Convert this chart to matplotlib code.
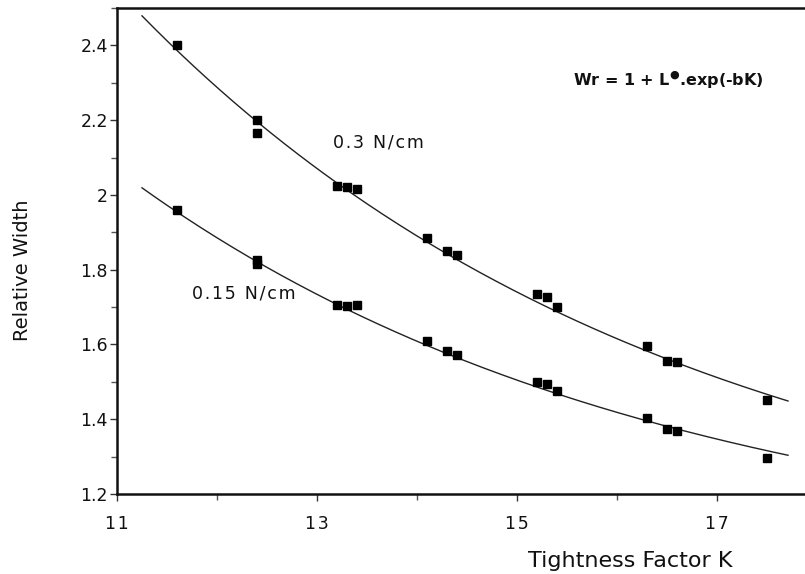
import numpy as np
import matplotlib
matplotlib.use("Agg")
import matplotlib.pyplot as plt
from matplotlib.ticker import MultipleLocator

plt.rcParams['font.family'] = ['DejaVu Sans', 'Liberation Sans']
plt.rcParams['mathtext.fontset'] = 'dejavusans'

# Data: 0.3 N/cm
k_high = [11.6, 12.4, 12.4, 13.2, 13.3, 13.4, 14.1, 14.3, 14.4, 15.2, 15.3, 15.4, 16.3, 16.5, 16.6, 17.5]
w_high = [2.40, 2.20, 2.165, 2.025, 2.02, 2.015, 1.885, 1.85, 1.838, 1.735, 1.727, 1.70, 1.596, 1.556, 1.554, 1.452]
# Data: 0.15 N/cm
k_low = [11.6, 12.4, 12.4, 13.2, 13.3, 13.4, 14.1, 14.3, 14.4, 15.2, 15.3, 15.4, 16.3, 16.5, 16.6, 17.5]
w_low = [1.961, 1.826, 1.815, 1.706, 1.704, 1.706, 1.61, 1.583, 1.572, 1.50, 1.495, 1.476, 1.404, 1.374, 1.369, 1.296]

# Fit parameters for Wr = 1 + L*exp(-bK)
L_high, b_high = 11.8, 0.1846
L_low, b_low = 8.39, 0.1874
k_fit_range = (11.25, 17.71)

x_ticks = [11, 13, 15, 17]
y_ticks = [1.2, 1.4, 1.6, 1.8, 2.0, 2.2, 2.4]
y_ticklabels = ['1.2', '1.4', '1.6', '1.8', '2', '2.2', '2.4']


def tracked(s):
    return '\u200a'.join(s)


fig = plt.figure(figsize=(8.05, 5.74), dpi=100)
ax = fig.add_axes([117/805, 1 - 494/574, 700/805, 486/574])

kk = np.linspace(k_fit_range[0], k_fit_range[1], 200)
ax.plot(kk, 1 + L_high*np.exp(-b_high*kk), color='#222222', lw=1.0)
ax.plot(kk, 1 + L_low*np.exp(-b_low*kk), color='#222222', lw=1.0)
ax.plot(k_high, w_high, 's', color='black', ms=5.8, ls='none')
ax.plot(k_low, w_low, 's', color='black', ms=5.8, ls='none')

ax.set_xlim(11, 18)
ax.set_ylim(1.2, 2.5)
ax.set_xticks(x_ticks)
ax.set_xticklabels([tracked(str(t)) for t in x_ticks])
ax.xaxis.set_minor_locator(MultipleLocator(1))
ax.set_yticks(y_ticks)
ax.set_yticklabels(y_ticklabels)
ax.yaxis.set_minor_locator(MultipleLocator(0.1))

ax.tick_params(axis='both', which='major', labelsize=12.5, direction='out', length=5, width=1, color='#333333', labelcolor='#111111')
ax.tick_params(axis='both', which='minor', direction='out', length=4, width=1, color='#555555')
ax.tick_params(axis='x', which='both', pad=10)
ax.tick_params(axis='y', which='both', pad=1.5)

for s in ['left', 'top', 'bottom']:
    ax.spines[s].set_linewidth(1.8)
    ax.spines[s].set_color('#111111')
ax.spines['right'].set_visible(False)

ax.text(13.16, 2.14, tracked('0.3 N/cm'), fontsize=12.5, va='center', ha='left', color='#111111')
ax.text(11.75, 1.737, tracked('0.15 N/cm'), fontsize=12.5, va='center', ha='left', color='#111111')
ax.text(15.56, 2.31, 'Wr = 1 + L$^{\u25CF}$.exp(-bK)', fontsize=11.5, fontweight='bold',
        va='center', ha='left', color='#111111')

fig.text(22/805, 1 - 270/574, 'Relative Width', rotation=90, fontsize=14,
         va='center', ha='center', color='#111111')
fig.text(630/805, 1 - 561/574, 'Tightness Factor K', fontsize=16,
         va='center', ha='center', color='#111111')

fig.savefig('out.png', dpi=100)
